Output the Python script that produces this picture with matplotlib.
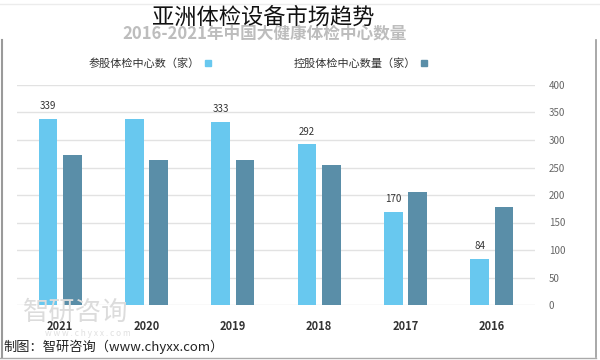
import matplotlib
matplotlib.use("Agg")
import matplotlib.pyplot as plt
from matplotlib.patches import Rectangle
from matplotlib.lines import Line2D

plt.rcParams['font.family'] = ['Noto Sans CJK SC', 'DejaVu Sans']

years = ['2016', '2017', '2018', '2019', '2020', '2021']
share_centers = [84, 170, 292, 333, 339, 339]      # 参股体检中心数（家）
hold_centers = [178, 206, 255, 264, 264, 272]      # 控股体检中心数量（家）
share_labels = ['84', '170', '292', '333', '', '339']
yticks = [0, 50, 100, 150, 200, 250, 300, 350, 400]

title = '亚洲体检设备市场趋势'
subtitle = '2016-2021年中国大健康体检中心数量'
legend_share = '参股体检中心数（家）'
legend_hold = '控股体检中心数量（家）'
footer = '制图：智研咨询（www.chyxx.com）'

c_light = '#68c8ef'
c_dark = '#5a8ea8'

W, H = 600, 360
fig = plt.figure(figsize=(6, 3.6), dpi=100)

def px(x, y):
    return x / W, 1 - y / H

# axes: x 17..535 px, y 85..305 px
ax = fig.add_axes([17 / W, (H - 305) / H, (535 - 17) / W, 220 / H])
xs = list(range(len(years)))
bw = 0.215
off = 0.14
ax.bar([x + off for x in xs], share_centers, width=bw, color=c_light, zorder=3)
ax.bar([x - off for x in xs], hold_centers, width=bw, color=c_dark, zorder=3)
for x, v, lab in zip(xs, share_centers, share_labels):
    if lab:
        ax.annotate(lab, (x + off, v), xytext=(0, 9), textcoords='offset points',
                    ha='center', va='center', fontsize=7, color='#333333')

ax.set_xlim(5.5, -0.5)
ax.set_ylim(0, 400)
ax.set_yticks(yticks)
ax.yaxis.tick_right()
ax.tick_params(axis='y', length=0, pad=10, labelsize=7, labelcolor='#666666')
for lab in ax.get_yticklabels():
    lab.set_horizontalalignment('left')
ax.set_xticks(xs)
ax.set_xticklabels(years, fontsize=8, fontweight='bold', color='#333333')
ax.tick_params(axis='x', length=0, pad=11)
ax.grid(axis='y', color='#e2e2e2', linewidth=1, zorder=0)
for s in ax.spines.values():
    s.set_visible(False)
ax.set_facecolor('none')

# titles
fig.text(*px(265, 33), subtitle, ha='center', va='center', fontsize=12,
         fontweight='bold', color='#bdbdbd')
fig.text(*px(263, 17), title, ha='center', va='center', fontsize=16,
         fontweight='light', color='#111111')

# legend
fig.add_artist(Rectangle(px(205, 66), 6 / W, 6 / H, transform=fig.transFigure,
                         color=c_light))
fig.text(*px(200, 63), legend_share, ha='right', va='center', fontsize=8,
         color='#333333')
fig.add_artist(Rectangle(px(421, 66), 6 / W, 6 / H, transform=fig.transFigure,
                         color=c_dark))
fig.text(*px(416, 63), legend_hold, ha='right', va='center', fontsize=8,
         color='#333333')

# watermark
fig.text(*px(76, 312), '智研咨询', ha='center', va='center', fontsize=19,
         color='#dcdcdc', zorder=0)
fig.text(*px(88, 334), 'w w w . c h y x x . c o m', ha='center', va='center',
         fontsize=6, color='#e0e0e0', zorder=0)

# footer
fig.text(*px(3, 347), footer, ha='left', va='center', fontsize=9.5,
         color='#222222')

# frame
fig.add_artist(Line2D([1.5 / W, 1.5 / W], [1 - 40 / H, 1 - 357 / H],
                      transform=fig.transFigure, color='#9a9a9a', linewidth=1.5))
fig.add_artist(Line2D([596 / W, 596 / W], [1 - 40 / H, 1 - 357 / H],
                      transform=fig.transFigure, color='#9a9a9a', linewidth=1.2))
fig.add_artist(Line2D([0, 596 / W], [1 - 357.5 / H, 1 - 357.5 / H],
                      transform=fig.transFigure, color='#aaaaaa', linewidth=1))
fig.add_artist(Line2D([0, 1], [1 - 4 / H, 1 - 4 / H],
                      transform=fig.transFigure, color='#ececec', linewidth=1))

fig.savefig('out.png', dpi=100)
